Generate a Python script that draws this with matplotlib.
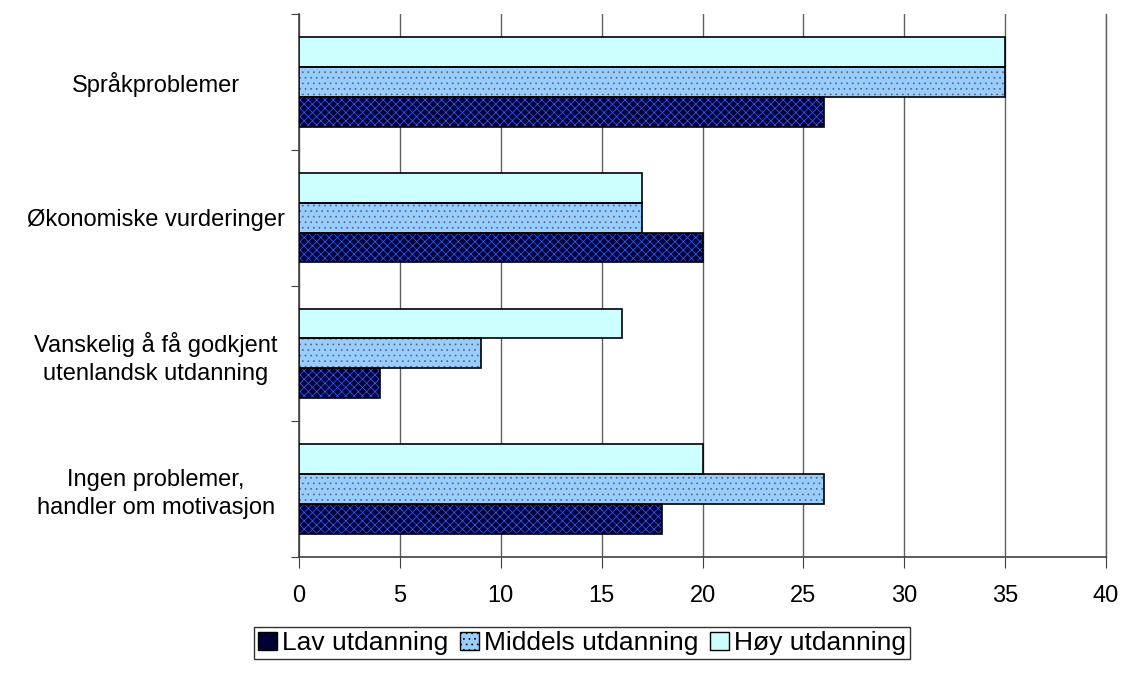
import numpy as np
import matplotlib.pyplot as plt
from matplotlib.patches import Patch

plt.rcParams['font.family'] = ['Liberation Sans', 'DejaVu Sans']
plt.rcParams['hatch.linewidth'] = 0.5

categories = ['Ingen problemer,\nhandler om motivasjon',
              'Vanskelig å få godkjent\nutenlandsk utdanning',
              'Økonomiske vurderinger',
              'Språkproblemer']
series = ['Lav utdanning', 'Middels utdanning', 'Høy utdanning']
lav = [18, 4, 20, 26]
middels = [26, 9, 17, 35]
hoy = [20, 16, 17, 35]

faces = ['#000040', '#99ccff', '#ccffff']
hatches = ['xxxx', '...', None]
hatch_cols = ['#3366ee', '#556677', None]

fig = plt.figure(figsize=(11.24, 6.79), dpi=100)
ax = fig.add_axes([0.266, 0.180, 0.718, 0.799])

y = np.arange(len(categories))
h = 0.22
for i, vals in enumerate([lav, middels, hoy]):
    pos = y + (i - 1) * h
    if hatches[i]:
        ax.barh(pos, vals, height=h, color=faces[i], hatch=hatches[i],
                edgecolor=hatch_cols[i], linewidth=0, zorder=3)
        ax.barh(pos, vals, height=h, fill=False, edgecolor='black',
                linewidth=1.2, zorder=4)
    else:
        ax.barh(pos, vals, height=h, color=faces[i], edgecolor='black',
                linewidth=1.2, zorder=3)

ax.set_xlim(0, 40)
ax.set_ylim(-0.5, len(categories) - 0.5)
ax.set_xticks(np.arange(0, 41, 5))
ax.set_yticks(np.arange(-0.5, len(categories), 1))
ax.set_yticklabels([])
ax.set_yticks(y, minor=True)
ax.set_yticklabels(categories, minor=True, fontsize=17, ha='center',
                   linespacing=1.35)
ax.tick_params(axis='y', which='minor', length=0, pad=103)
ax.tick_params(axis='y', which='major', length=6, color='#404040')
ax.tick_params(axis='x', length=8, color='#404040', labelsize=17, pad=12)
ax.xaxis.grid(True, color='#606060', linewidth=1, zorder=0)
ax.axvline(40, color='#606060', linewidth=1, zorder=0, clip_on=False)
for s in ['top', 'right']:
    ax.spines[s].set_visible(False)
for s in ['left', 'bottom']:
    ax.spines[s].set_color('#404040')
    ax.spines[s].set_linewidth(1.2)

handles = []
for i in range(3):
    handles.append(Patch(facecolor=faces[i], hatch=hatches[i],
                         edgecolor='black', linewidth=1))
leg = fig.legend(handles, series, loc='center', bbox_to_anchor=(0.518, 0.053),
                 ncol=3, fontsize=19, frameon=True, fancybox=False,
                 handlelength=0.7, handleheight=0.7, handletextpad=0.2,
                 columnspacing=0.45, borderpad=0.15, borderaxespad=0)
leg.get_frame().set_edgecolor('black')
leg.get_frame().set_linewidth(1)

fig.savefig('out.png', dpi=100)
